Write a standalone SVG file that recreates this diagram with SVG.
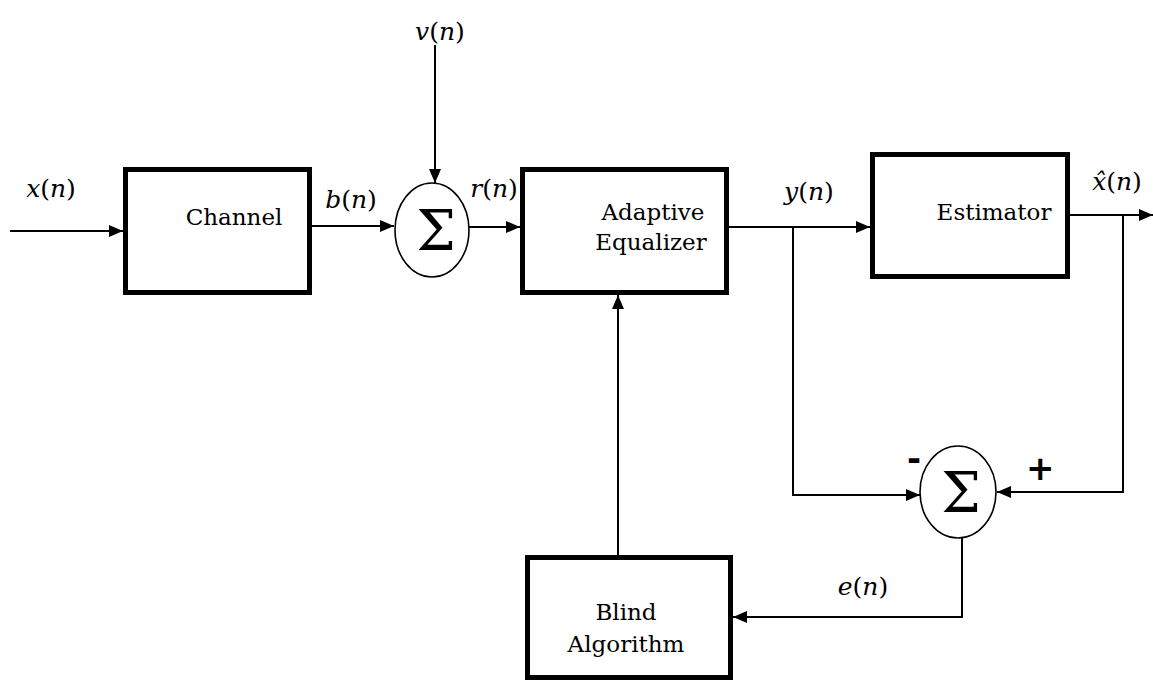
<svg xmlns="http://www.w3.org/2000/svg" width="1153" height="682" viewBox="0 0 1153 682">
<style>
.box{fill:#fff;stroke:#000;stroke-width:5}
.sum{fill:#fff;stroke:#000;stroke-width:1.6}
.ln{fill:none;stroke:#000;stroke-width:2}
.serif{font-family:"DejaVu Serif",serif}
.t{font-size:23px;fill:#000}
.lb{font-size:25px;fill:#000}
.sig{font-size:56px;fill:#000}
.sg{font-family:"DejaVu Sans",sans-serif;font-size:34px;font-weight:bold;fill:#000}
</style>
<defs>
<marker id="ah" viewBox="0 0 14 12" refX="14" refY="6" markerWidth="14" markerHeight="12" markerUnits="userSpaceOnUse" orient="auto">
<path d="M0,0 L14,6 L0,12 Z" fill="#000"/>
</marker>
</defs>
<g id="connectors">
<path class="ln" d="M10,231 H123" marker-end="url(#ah)"/>
<path class="ln" d="M312,226 H394" marker-end="url(#ah)"/>
<path class="ln" d="M435,45 V183" marker-end="url(#ah)"/>
<path class="ln" d="M469,227 H520" marker-end="url(#ah)"/>
<path class="ln" d="M728,227 H870" marker-end="url(#ah)"/>
<path class="ln" d="M1070,215 H1153" marker-end="url(#ah)"/>
<path class="ln" d="M793,227 V495 H920" marker-end="url(#ah)"/>
<path class="ln" d="M1123,215 V492 H997" marker-end="url(#ah)"/>
<path class="ln" d="M962,538 V617 H733" marker-end="url(#ah)"/>
<path class="ln" d="M618,555 V295" marker-end="url(#ah)"/>
</g>
<g class="serif">
<g id="channel">
<rect class="box" x="125.5" y="169.5" width="184" height="123"/>
<text class="t" x="234" y="225" text-anchor="middle">Channel</text>
</g>
<g id="sum1">
<ellipse class="sum" cx="432" cy="230" rx="37" ry="47"/>
<text class="sig" x="436" y="250" text-anchor="middle">Σ</text>
</g>
<g id="equalizer">
<rect class="box" x="522.5" y="169.5" width="204" height="123"/>
<text class="t" x="653" y="220" text-anchor="middle">Adaptive</text>
<text class="t" x="651" y="250" text-anchor="middle">Equalizer</text>
</g>
<g id="estimator">
<rect class="box" x="872.5" y="154.5" width="195" height="122"/>
<text class="t" x="994" y="220" text-anchor="middle">Estimator</text>
</g>
<g id="sum2">
<ellipse class="sum" cx="958" cy="492" rx="38" ry="46"/>
<text class="sig" x="961" y="512" text-anchor="middle">Σ</text>
<text class="sg" x="907" y="470">-</text>
<text class="sg" x="1026" y="480">+</text>
</g>
<g id="blind">
<rect class="box" x="527.5" y="557.5" width="203" height="120"/>
<text class="t" x="626" y="620" text-anchor="middle">Blind</text>
<text class="t" x="626" y="652" text-anchor="middle">Algorithm</text>
</g>
<g id="labels">
<text class="lb" x="51" y="197" text-anchor="middle"><tspan font-style="italic">x</tspan>(<tspan font-style="italic">n</tspan>)</text>
<text class="lb" x="351" y="208" text-anchor="middle"><tspan font-style="italic">b</tspan>(<tspan font-style="italic">n</tspan>)</text>
<text class="lb" x="440" y="40" text-anchor="middle" font-size="27"><tspan font-style="italic">v</tspan>(<tspan font-style="italic">n</tspan>)</text>
<text class="lb" x="494" y="197" text-anchor="middle"><tspan font-style="italic">r</tspan>(<tspan font-style="italic">n</tspan>)</text>
<text class="lb" x="809" y="200" text-anchor="middle"><tspan font-style="italic">y</tspan>(<tspan font-style="italic">n</tspan>)</text>
<text class="lb" x="1117" y="190" text-anchor="middle"><tspan font-style="italic">x̂</tspan>(<tspan font-style="italic">n</tspan>)</text>
<text class="lb" x="863" y="595" text-anchor="middle"><tspan font-style="italic">e</tspan>(<tspan font-style="italic">n</tspan>)</text>
</g>
</g>
</svg>
